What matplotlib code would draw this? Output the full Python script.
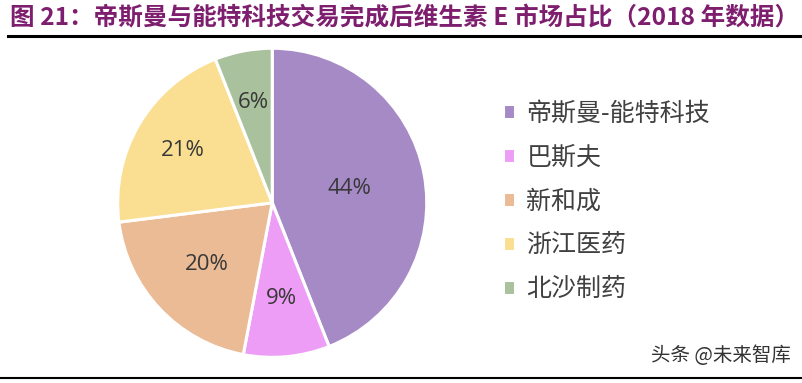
import numpy as np
import matplotlib.pyplot as plt
from matplotlib.lines import Line2D

plt.rcParams['font.family'] = ['Noto Sans CJK SC', 'DejaVu Sans']

# 数据
companies = ['帝斯曼-能特科技', '巴斯夫', '新和成', '浙江医药', '北沙制药']
shares = [44, 9, 20, 21, 6]
colors = ['#A68AC5', '#EE9DF6', '#EBBB96', '#FADF93', '#A9C19D']
label_dist = [0.51, 0.62, 0.58, 0.67, 0.66]

title = '图 21：帝斯曼与能特科技交易完成后维生素 E 市场占比（2018 年数据）'

fig = plt.figure(figsize=(8.03, 3.83), dpi=100)

# 标题和分隔线
fig.text(0.012, 0.953, title, fontsize=17.7, fontweight='bold', color='#7E1E6E',
         va='center', ha='left')
fig.add_artist(Line2D([0.01, 1.0], [0.906, 0.906], color='black', lw=2.2))
fig.add_artist(Line2D([0.0, 0.997], [0.013, 0.013], color='black', lw=1.5))
fig.text(0.985, 0.073, '头条 @未来智库', fontsize=14, color='#333333',
         ha='right', va='center')

# 饼图
ax = fig.add_axes([0.1445, 0.063, 0.389, 0.815])
wedges, _ = ax.pie(shares, colors=colors, startangle=90, counterclock=False,
                   wedgeprops=dict(edgecolor='white', linewidth=2.2))
ax.set_xlim(-1.01, 1.01)
ax.set_ylim(-1.01, 1.01)
ax.set_aspect('equal')

for w, v, d in zip(wedges, shares, label_dist):
    ang = np.deg2rad((w.theta1 + w.theta2) / 2)
    ax.text(d * np.cos(ang), d * np.sin(ang), f'{v}%', fontsize=16,
            color='#383838', ha='center', va='center', family='Open Sans')

# 图例
leg = fig.legend(wedges, companies, loc='center left', bbox_to_anchor=(0.598, 0.474),
                 frameon=False, fontsize=18, handlelength=0.5, handleheight=0.5,
                 handletextpad=0.45, labelspacing=0.72)
for t in leg.get_texts():
    t.set_color('#404040')

fig.savefig('out.png', dpi=100)
